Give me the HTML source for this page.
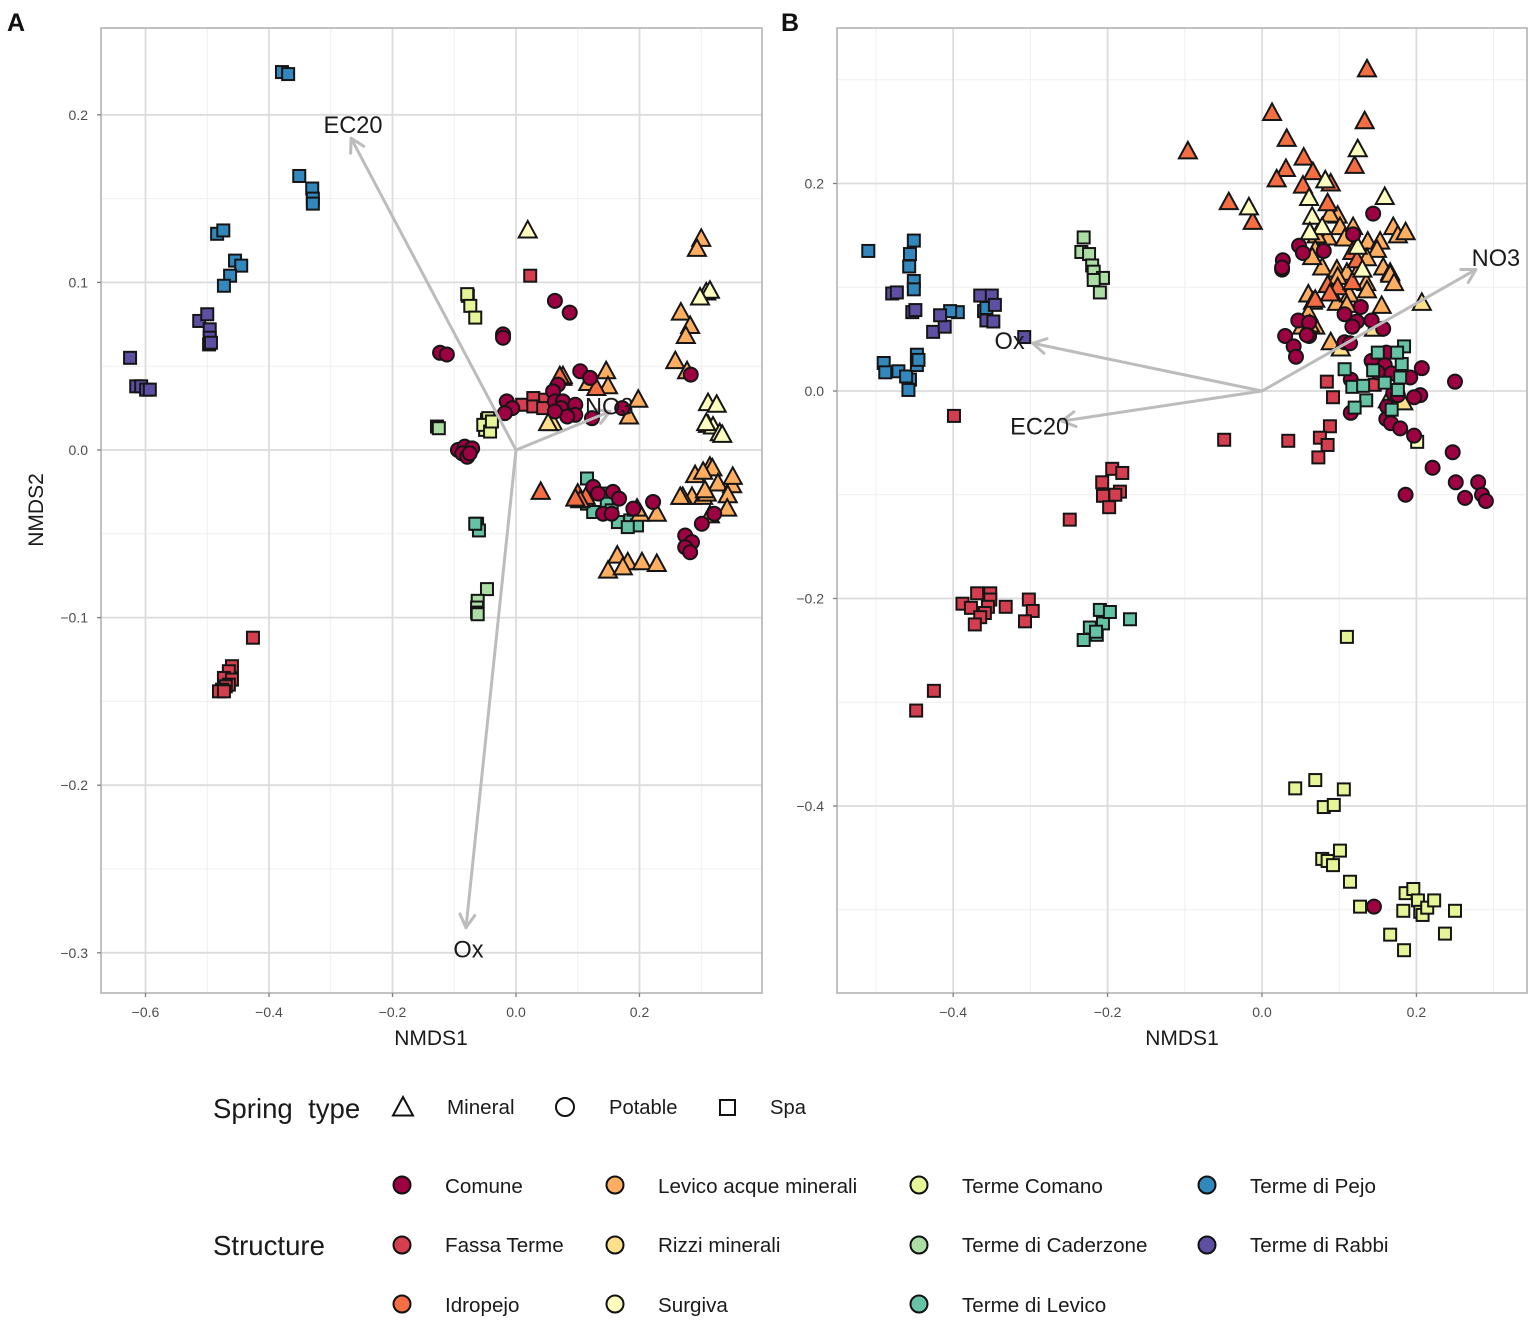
<!DOCTYPE html>
<html lang="en">
<head>
<meta charset="utf-8">
<title>NMDS ordination of spring water samples</title>
<style>
html,body{margin:0;padding:0;background:#fff;width:1535px;height:1320px;overflow:hidden}
svg{display:block;filter:blur(0.35px)}
text{font-family:"Liberation Sans",Arial,sans-serif}
</style>
</head>
<body>
<svg id="chart" xmlns="http://www.w3.org/2000/svg" width="1535" height="1320" viewBox="0 0 1535 1320">
  <rect width="1535" height="1320" fill="#fff"/>
  <text x="7" y="31" font-size="25" font-weight="700" fill="#111">A</text>
  <text x="781" y="31" font-size="25" font-weight="700" fill="#111">B</text>
  <g id="panelA"></g>
  <g id="panelB"></g>
  <g>
    <text x="213" y="1118" font-size="27.6" fill="#1a1a1a" xml:space="preserve">Spring  type</text>
    <path d="M403 1097 L413 1115.5 L393 1115.5 Z" fill="#fff" stroke="#111" stroke-width="2"/>
    <text x="447" y="1114" font-size="20.6" fill="#1a1a1a">Mineral</text>
    <circle cx="565" cy="1107" r="9" fill="#fff" stroke="#111" stroke-width="2"/>
    <text x="609" y="1114" font-size="20.2" fill="#1a1a1a">Potable</text>
    <rect x="720" y="1100" width="15" height="15" fill="#fff" stroke="#111" stroke-width="2"/>
    <text x="770" y="1114" font-size="20.2" fill="#1a1a1a">Spa</text>
  </g>
  <g>
    <text x="213" y="1255" font-size="27.6" fill="#1a1a1a">Structure</text>
    <g><circle cx="402" cy="1185" r="8.5" fill="#9E0142" stroke="#111" stroke-width="2"/><text x="445" y="1193" font-size="20.6" fill="#1a1a1a">Comune</text></g>
    <g><circle cx="402" cy="1245" r="8.5" fill="#D53E4F" stroke="#111" stroke-width="2"/><text x="445" y="1252" font-size="20.6" fill="#1a1a1a">Fassa Terme</text></g>
    <g><circle cx="402" cy="1304" r="8.5" fill="#F46D43" stroke="#111" stroke-width="2"/><text x="445" y="1312" font-size="20.6" fill="#1a1a1a">Idropejo</text></g>
    <g><circle cx="615" cy="1185" r="8.5" fill="#FDAE61" stroke="#111" stroke-width="2"/><text x="658" y="1193" font-size="20.6" fill="#1a1a1a">Levico acque minerali</text></g>
    <g><circle cx="615" cy="1245" r="8.5" fill="#FEE08B" stroke="#111" stroke-width="2"/><text x="658" y="1252" font-size="20.6" fill="#1a1a1a">Rizzi minerali</text></g>
    <g><circle cx="615" cy="1304" r="8.5" fill="#FFFFBF" stroke="#111" stroke-width="2"/><text x="658" y="1312" font-size="20.6" fill="#1a1a1a">Surgiva</text></g>
    <g><circle cx="919" cy="1185" r="8.5" fill="#E6F598" stroke="#111" stroke-width="2"/><text x="962" y="1193" font-size="20.6" fill="#1a1a1a">Terme Comano</text></g>
    <g><circle cx="919" cy="1245" r="8.5" fill="#ABDDA4" stroke="#111" stroke-width="2"/><text x="962" y="1252" font-size="20.6" fill="#1a1a1a">Terme di Caderzone</text></g>
    <g><circle cx="919" cy="1304" r="8.5" fill="#66C2A5" stroke="#111" stroke-width="2"/><text x="962" y="1312" font-size="20.6" fill="#1a1a1a">Terme di Levico</text></g>
    <g><circle cx="1207" cy="1185" r="8.5" fill="#3288BD" stroke="#111" stroke-width="2"/><text x="1250" y="1193" font-size="20.6" fill="#1a1a1a">Terme di Pejo</text></g>
    <g><circle cx="1207" cy="1245" r="8.5" fill="#5E4FA2" stroke="#111" stroke-width="2"/><text x="1250" y="1252" font-size="20.6" fill="#1a1a1a">Terme di Rabbi</text></g>
  </g>
</svg>
<script>
// ---------- Panel A data (NMDS1, NMDS2) ----------
const aLevicoSpa=[[.115,-.017],[.139,-.026],[.115,-.032],[.125,-.037],[.147,-.032],[.155,-.036],[.165,-.043],[.185,-.042],[.196,-.045],[.181,-.046],[-.063,-.044],[-.060,-.048],[-.066,-.044]];
const aCaderzoneSpa=[[-.128,.014],[-.125,.013],[-.047,-.083],[-.062,-.090],[-.063,-.094],[-.063,-.097],[-.062,-.098]];
const aComanoSpa=[[-.078,.092],[-.079,.093],[-.074,.086],[-.066,.079],[-.047,.018],[-.044,.015],[-.050,.012],[-.045,.019],[-.053,.015],[-.042,.011],[-.039,.017]];
const aPejoSpa=[[-.379,.2255],[-.369,.2243],[-.351,.1635],[-.330,.156],[-.329,.150],[-.329,.147],[-.484,.129],[-.474,.131],[-.455,.113],[-.445,.110],[-.463,.104],[-.473,.098]];
const aRabbiSpa=[[-.625,.055],[-.615,.038],[-.607,.038],[-.599,.036],[-.593,.036],[-.513,.077],[-.500,.081],[-.496,.072],[-.496,.067],[-.497,.063],[-.494,.064]];
const aFassaSpa=[[-.426,-.112],[-.460,-.129],[-.465,-.132],[-.473,-.136],[-.460,-.137],[-.465,-.140],[-.470,-.141],[-.476,-.143],[-.481,-.144],[-.473,-.144],[.010,.027],[.028,.031],[.047,.030],[.028,.026],[.044,.025],[.023,.104]];
const aLevicoTri=[[.300,.126],[.293,.120],[.267,.082],[.282,.074],[.275,.068],[.258,.053],[.277,.047],[.146,.047],[.149,.038],[.198,.030],[.183,.020],[.290,-.015],[.314,-.010],[.318,-.011],[.303,-.013],[.327,-.020],[.350,-.021],[.351,-.016],[.343,-.027],[.342,-.035],[.314,-.039],[.285,-.028],[.270,-.028],[.266,-.028],[.303,-.028],[.309,-.026],[.306,-.024],[.164,-.063],[.181,-.067],[.204,-.067],[.228,-.068],[.149,-.072],[.173,-.070],[.201,-.038],[.228,-.038],[.196,-.035],[.075,.043],[.076,.044],[.117,.040]];
const aIdropejoTri=[[.040,-.025],[.100,-.026],[.113,-.028],[.104,-.030],[.096,-.029],[.130,.037],[.071,.044]];
const aSurgivaTri=[[.311,.028],[.325,.027],[.311,.015],[.319,.014],[.330,.010],[.334,.009],[.308,.016],[.308,.094],[.314,.095],[.298,.091],[.019,.131]];
const aRizziTri=[[.060,.016],[.052,.016]];
const aComunePot=[[-.123,.058],[-.112,.057],[-.021,.069],[-.021,.067],[.063,.089],[.087,.082],[.104,.047],[.120,.043],[.068,.039],[.060,.035],[.283,.045],[-.015,.029],[-.006,.025],[-.018,.022],[.063,.029],[.076,.029],[.096,.027],[.073,.025],[.096,.021],[.083,.020],[.063,.023],[.123,.019],[.172,.025],[-.094,0],[-.083,.002],[-.071,.001],[-.087,-.002],[-.079,-.004],[-.075,-.002],[.125,-.022],[.133,-.026],[.157,-.025],[.167,-.029],[.141,-.038],[.155,-.038],[.190,-.035],[.222,-.031],[.321,-.038],[.301,-.044],[.274,-.051],[.285,-.055],[.274,-.058],[.282,-.061]];

// ---------- Panel B data (NMDS1, NMDS2) ----------
const bLevicoSpa=[[-.231,-.240],[-.223,-.228],[-.214,-.235],[-.206,-.224],[-.210,-.211],[-.197,-.213],[-.171,-.220],[-.215,-.232],[.107,.021],[.117,.004],[.131,.005],[.135,-.009],[.120,-.016],[.159,.008],[.168,-.018],[.184,.043],[.181,.026],[.175,.037],[.150,.037],[.144,.020],[.179,.013],[.176,.001]];
const bCaderzoneSpa=[[-.231,.148],[-.234,.134],[-.224,.132],[-.220,.121],[-.218,.115],[-.206,.109],[-.210,.095],[-.218,.107]];
const bComanoSpa=[[.043,-.383],[.069,-.375],[.106,-.384],[.080,-.401],[.093,-.399],[.078,-.451],[.085,-.453],[.092,-.457],[.101,-.443],[.114,-.473],[.127,-.497],[.166,-.524],[.184,-.539],[.186,-.484],[.196,-.480],[.183,-.501],[.202,-.491],[.205,-.502],[.208,-.505],[.214,-.498],[.223,-.491],[.250,-.501],[.237,-.523],[.110,-.237]];
const bRizziSpa=[[.201,-.049]];
const bPejoSpa=[[-.510,.135],[-.451,.145],[-.456,.132],[-.457,.120],[-.451,.106],[-.451,.098],[-.490,.027],[-.488,.018],[-.471,.019],[-.456,.011],[-.461,.014],[-.458,.001],[-.447,.025],[-.447,.035],[-.445,.030],[-.394,.076],[-.404,.077],[-.360,.077],[-.357,.080]];
const bRabbiSpa=[[-.479,.094],[-.473,.095],[-.453,.076],[-.449,.078],[-.426,.057],[-.411,.062],[-.417,.073],[-.365,.092],[-.350,.092],[-.346,.083],[-.357,.068],[-.348,.067],[-.308,.052]];
const bFassaSpa=[[-.399,-.024],[-.049,-.047],[.034,-.048],[.084,.009],[.092,-.006],[.088,-.034],[.075,-.045],[.085,-.052],[.073,-.064],[-.194,-.075],[-.181,-.079],[-.207,-.088],[-.184,-.097],[-.206,-.101],[-.190,-.100],[-.198,-.112],[-.249,-.124],[-.388,-.205],[-.369,-.195],[-.352,-.195],[-.377,-.209],[-.352,-.201],[-.355,-.208],[-.359,-.214],[-.365,-.218],[-.372,-.225],[-.332,-.208],[-.302,-.201],[-.297,-.212],[-.307,-.222],[-.425,-.289],[-.448,-.308],[.146,.006]];
const bLevicoTri=[[.098,.169],[.088,.170],[.101,.158],[.118,.158],[.085,.148],[.071,.150],[.107,.147],[.137,.144],[.153,.144],[.149,.136],[.170,.158],[.176,.150],[.186,.153],[.069,.136],[.136,.128],[.078,.119],[.097,.117],[.157,.119],[.166,.114],[.110,.114],[.127,.119],[.065,.129],[.060,.093],[.066,.086],[.060,.075],[.097,.085],[.113,.093],[.135,.104],[.136,.097],[.166,.112],[.171,.104],[.155,.082],[.110,.083],[.069,.062],[.052,.062],[.089,.047],[.062,.064],[.098,.110]];
const bIdropejoTri=[[.136,.310],[.133,.260],[.013,.268],[-.096,.231],[.032,.243],[.054,.225],[.066,.211],[.031,.214],[.019,.204],[.053,.198],[.089,.200],[.120,.217],[-.043,.182],[-.012,.163],[.085,.181],[.117,.134],[.123,.126],[.085,.102],[.098,.100],[.117,.105],[.069,.088],[.088,.094]];
const bSurgivaTri=[[.124,.233],[-.017,.177],[.159,.187],[.061,.186],[.065,.168],[.078,.158],[.062,.153],[.082,.203],[.124,.139],[.130,.117]];
const bRizziTri=[[.207,.085],[.145,.060],[.163,-.009],[.183,-.011],[.102,.041]];
const bComunePot=[[.026,.117],[.047,.068],[.061,.066],[.030,.053],[.041,.043],[.044,.033],[.061,.053],[.058,.054],[.107,.074],[.128,.081],[.123,.067],[.117,.062],[.142,.068],[.157,.060],[.107,.047],[.114,.046],[.142,.029],[.161,.037],[.159,.025],[.150,.018],[.168,.017],[.207,.022],[.192,.013],[.115,.011],[.250,.009],[.170,-.002],[.205,-.004],[.197,-.006],[.176,-.004],[.162,-.015],[.115,-.021],[.161,-.027],[.167,-.031],[.179,-.036],[.197,-.043],[.247,-.059],[.221,-.074],[.251,-.088],[.280,-.088],[.263,-.103],[.285,-.100],[.290,-.106],[.186,-.100],[.144,.171],[.118,.151],[.048,.140],[.053,.133],[.080,.135],[.027,.126],[.026,.119],[.145,-.497]];

// ---------- Axis ticks and envfit vectors ----------
const aXMajor=[-.6,-.4,-.2,0,.2];
const aXMinor=[-.5,-.3,-.1,.1,.3];
const aYMajor=[.2,.1,0,-.1,-.2,-.3];
const aYMinor=[.15,.05,-.05,-.15,-.25];
const aXLabels=["\u22120.6","\u22120.4","\u22120.2","0.0","0.2"];
const aYLabels=["0.2","0.1","0.0","\u22120.1","\u22120.2","\u22120.3"];
const bXMajor=[-.4,-.2,0,.2];
const bXMinor=[-.5,-.3,-.1,.1,.3];
const bYMajor=[.2,0,-.2,-.4];
const bYMinor=[.3,.1,-.1,-.3,-.5];
const bXLabels=["\u22120.4","\u22120.2","0.0","0.2"];
const bYLabels=["0.2","0.0","\u22120.2","\u22120.4"];
const aVectorNames=["EC20","Ox","NO3"];
const aVectorX=[-.267,-.081,.152];
const aVectorY=[.186,-.285,.023];
const aVectorLabelX=[-.264,-.077,.151];
const aVectorLabelY=[.194,-.298,.026];
const bVectorNames=["NO3","Ox","EC20"];
const bVectorX=[.277,-.297,-.259];
const bVectorY=[.117,.046,-.029];
const bVectorLabelX=[.303,-.327,-.288];
const bVectorLabelY=[.128,.048,-.034];

const palette={comune:"#9E0142",fassa:"#D53E4F",idropejo:"#F46D43",levico:"#FDAE61",rizzi:"#FEE08B",surgiva:"#FFFFBF",comano:"#E6F598",caderzone:"#ABDDA4",levicoTerme:"#66C2A5",pejo:"#3288BD",rabbi:"#5E4FA2"};

const NS="http://www.w3.org/2000/svg";
function make(parent,tag,attrs,txt){
  const el=document.createElementNS(NS,tag);
  for(const k in attrs)el.setAttribute(k,attrs[k]);
  if(txt!==undefined)el.textContent=txt;
  parent.appendChild(el);
  return el;
}
function drawPoint(g,shape,color,px,py){
  const common={fill:color,stroke:"#151515","stroke-width":2};
  let el;
  if(shape==="square"){
    el=make(g,"rect",Object.assign({x:px-6,y:py-6,width:12,height:12},common));
  }else if(shape==="circle"){
    el=make(g,"circle",Object.assign({cx:px,cy:py,r:7},common));
  }else{
    el=make(g,"path",Object.assign({d:"M"+px+" "+(py-9.5)+"L"+(px+9)+" "+(py+7)+"L"+(px-9)+" "+(py+7)+"Z","stroke-linejoin":"miter"},common));
  }
  return el;
}
function drawPanel(p){
  const g=document.getElementById(p.id);
  const sx=v=>p.x0+v*p.kx, sy=v=>p.y0-v*p.ky;
  make(g,"rect",{x:p.left,y:p.top,width:p.right-p.left,height:p.bottom-p.top,fill:"#fff"});
  const grid=make(g,"g",{});
  
  
  p.xMinor.forEach(v=>make(grid,"line",{x1:sx(v),x2:sx(v),y1:p.top,y2:p.bottom,stroke:"#efefef","stroke-width":1}));
  p.yMinor.forEach(v=>make(grid,"line",{y1:sy(v),y2:sy(v),x1:p.left,x2:p.right,stroke:"#efefef","stroke-width":1}));
  p.xMajor.forEach(v=>make(grid,"line",{x1:sx(v),x2:sx(v),y1:p.top,y2:p.bottom,stroke:"#dcdcdc","stroke-width":1.8}));
  p.yMajor.forEach(v=>make(grid,"line",{y1:sy(v),y2:sy(v),x1:p.left,x2:p.right,stroke:"#dcdcdc","stroke-width":1.8}));
  p.series.forEach(s=>{
    const sg=make(g,"g",{});
    
    
    s.data.forEach(d=>{
      const el=drawPoint(sg,s.shape,s.color,sx(d[0]),sy(d[1]));
      
      
    });
  });
  p.vecNames.forEach((name,i)=>{
    const vg=make(g,"g",{fill:"none",stroke:"#bcbcbc","stroke-width":3,"stroke-linecap":"round"});
    
    
    const ox=sx(0),oy=sy(0),tx=sx(p.vecX[i]),ty=sy(p.vecY[i]);
    make(vg,"line",{x1:ox,y1:oy,x2:tx,y2:ty});
    const ang=Math.atan2(ty-oy,tx-ox),len=15,sp=0.52;
    [ang+Math.PI-sp,ang+Math.PI+sp].forEach(a=>{
      make(vg,"line",{x1:tx,y1:ty,x2:tx+len*Math.cos(a),y2:ty+len*Math.sin(a)});
    });
    const lab=make(g,"text",{x:sx(p.vecLX[i]),y:sy(p.vecLY[i])+8,"font-size":23.6,"text-anchor":"middle",fill:"#1a1a1a"},name);
    
    
  });
  const border=make(g,"rect",{x:p.left,y:p.top,width:p.right-p.left,height:p.bottom-p.top,fill:"none",stroke:"#b3b3b3","stroke-width":1.6});
  
  
  p.xMajor.forEach((v,i)=>{
    make(g,"line",{x1:sx(v),x2:sx(v),y1:p.bottom,y2:p.bottom+4,stroke:"#7f7f7f","stroke-width":1.3});
    const t=make(g,"text",{x:sx(v),y:p.bottom+24,"font-size":14,"text-anchor":"middle",fill:"#4d4d4d"},p.xLabels[i]);
    
    
  });
  p.yMajor.forEach((v,i)=>{
    make(g,"line",{x1:p.left-4,x2:p.left,y1:sy(v),y2:sy(v),stroke:"#7f7f7f","stroke-width":1.3});
    const t=make(g,"text",{x:p.left-13,y:sy(v)+5,"font-size":14,"text-anchor":"end",fill:"#4d4d4d"},p.yLabels[i]);
    
    
  });
  const xt=make(g,"text",{x:p.xTitleX,y:1045,"font-size":21,"text-anchor":"middle",fill:"#1a1a1a"},"NMDS1");
  
  
  if(p.yTitle){
    const yt=make(g,"text",{transform:"translate(43,510) rotate(-90)","font-size":21,"text-anchor":"middle",fill:"#1a1a1a"},"NMDS2");
    
    
  }
}
drawPanel({id:"panelA",left:101,right:762,top:28,bottom:993,x0:516,kx:617.5,y0:450,ky:1676,
  xMajor:aXMajor,xMinor:aXMinor,yMajor:aYMajor,yMinor:aYMinor,xLabels:aXLabels,yLabels:aYLabels,
  vecNames:aVectorNames,vecX:aVectorX,vecY:aVectorY,vecLX:aVectorLabelX,vecLY:aVectorLabelY,xTitleX:431,yTitle:true,
  series:[
    {name:"terme-di-levico",shape:"square",color:palette.levicoTerme,data:aLevicoSpa},
    {name:"terme-di-caderzone",shape:"square",color:palette.caderzone,data:aCaderzoneSpa},
    {name:"terme-comano",shape:"square",color:palette.comano,data:aComanoSpa},
    {name:"terme-di-pejo",shape:"square",color:palette.pejo,data:aPejoSpa},
    {name:"terme-di-rabbi",shape:"square",color:palette.rabbi,data:aRabbiSpa},
    {name:"fassa-terme",shape:"square",color:palette.fassa,data:aFassaSpa},
    {name:"levico-acque-minerali",shape:"triangle",color:palette.levico,data:aLevicoTri},
    {name:"idropejo",shape:"triangle",color:palette.idropejo,data:aIdropejoTri},
    {name:"surgiva",shape:"triangle",color:palette.surgiva,data:aSurgivaTri},
    {name:"rizzi-minerali",shape:"triangle",color:palette.rizzi,data:aRizziTri},
    {name:"comune",shape:"circle",color:palette.comune,data:aComunePot}
  ]});
drawPanel({id:"panelB",left:837,right:1527,top:28,bottom:993,x0:1262,kx:772,y0:391,ky:1037.5,
  xMajor:bXMajor,xMinor:bXMinor,yMajor:bYMajor,yMinor:bYMinor,xLabels:bXLabels,yLabels:bYLabels,
  vecNames:bVectorNames,vecX:bVectorX,vecY:bVectorY,vecLX:bVectorLabelX,vecLY:bVectorLabelY,xTitleX:1182,yTitle:false,
  series:[
    {name:"terme-di-caderzone",shape:"square",color:palette.caderzone,data:bCaderzoneSpa},
    {name:"terme-comano",shape:"square",color:palette.comano,data:bComanoSpa},
    {name:"surgiva-spa",shape:"square",color:palette.surgiva,data:bRizziSpa},
    {name:"terme-di-pejo",shape:"square",color:palette.pejo,data:bPejoSpa},
    {name:"terme-di-rabbi",shape:"square",color:palette.rabbi,data:bRabbiSpa},
    {name:"fassa-terme",shape:"square",color:palette.fassa,data:bFassaSpa},
    {name:"levico-acque-minerali",shape:"triangle",color:palette.levico,data:bLevicoTri},
    {name:"idropejo",shape:"triangle",color:palette.idropejo,data:bIdropejoTri},
    {name:"surgiva",shape:"triangle",color:palette.surgiva,data:bSurgivaTri},
    {name:"rizzi-minerali",shape:"triangle",color:palette.rizzi,data:bRizziTri},
    {name:"comune",shape:"circle",color:palette.comune,data:bComunePot},
    {name:"terme-di-levico",shape:"square",color:palette.levicoTerme,data:bLevicoSpa}
  ]});
</script>
</body>
</html>
